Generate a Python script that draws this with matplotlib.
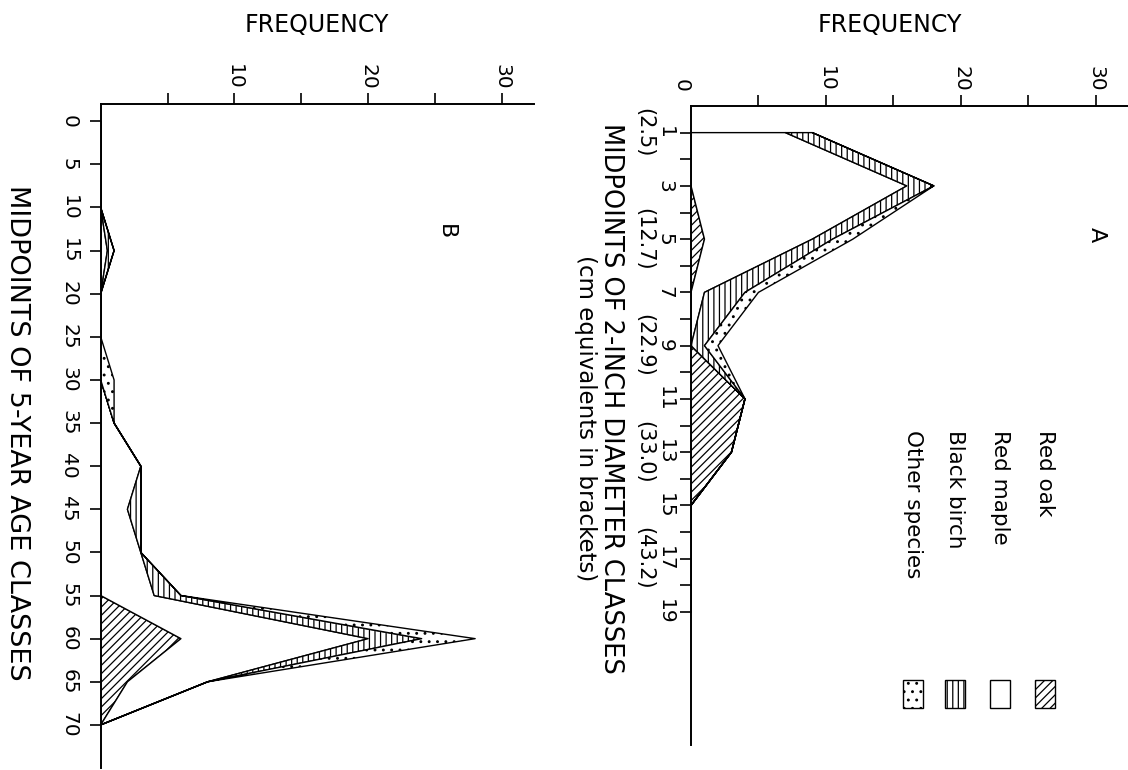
import numpy as np
import matplotlib
matplotlib.use("Agg")
from matplotlib import pyplot as plt
from matplotlib import transforms
from matplotlib.patches import Rectangle

# panel A: 2-inch diameter classes (midpoints)
diam_mid = [1, 3, 5, 7, 9, 11, 13, 15, 17, 19]
diam_cm = ["(2.5)", "(12.7)", "(22.9)", "(33.0)", "(43.2)"]
diam_cm_at = [1, 5, 9, 13, 17]
A_red_oak = [0, 0, 1, 0, 0, 4, 3, 0, 0, 0]
A_red_maple = [7, 16, 8, 1, 0, 0, 0, 0, 0, 0]
A_black_birch = [2, 2, 1.5, 3, 1, 0, 0, 0, 0, 0]
A_other = [0, 0, 1.5, 1, 1, 0, 0, 0, 0, 0]

# panel B: 5-year age classes
age_mid = [0, 5, 10, 15, 20, 25, 30, 35, 40, 45, 50, 55, 60, 65, 70]
B_red_oak = [0, 0, 0, 0, 0, 0, 0, 0, 0, 0, 0, 0, 6, 2, 0]
B_red_maple = [0, 0, 0, 0.5, 0, 0, 0, 1, 3, 2, 3, 4, 14, 6, 0]
B_black_birch = [0, 0, 0, 0.5, 0, 0, 0, 0, 0, 1, 0, 2, 4, 0, 0]
B_other = [0, 0, 0, 0, 0, 0, 1, 0, 0, 0, 0, 0, 4, 0, 0]

species = ["Red oak", "Red maple", "Black birch", "Other species"]
hatches = ["////", "", "|||", ".."]

plt.rcParams["hatch.linewidth"] = 0.9
plt.rcParams["font.family"] = "DejaVu Sans"

W, H = 1128, 770
fig = plt.figure(figsize=(W / 100, H / 100), dpi=100)


def box(x0, y0, x1, y1):
    return [x0 / W, 1 - y1 / H, (x1 - x0) / W, (y1 - y0) / H]


def ftext(x, y, s, **kw):
    fig.text(x / W, 1 - y / H, s, **kw)


def stack(ax, y, layers):
    base = np.zeros(len(y))
    for vals, hatch in zip(layers, hatches):
        top = base + np.array(vals, dtype=float)
        ax.fill_betweenx(y, base, top, facecolor="white", edgecolor="black",
                         hatch=hatch, linewidth=1.0)
        base = top


def style(ax):
    ax.spines["right"].set_visible(False)
    ax.spines["bottom"].set_visible(False)
    ax.spines["top"].set_linewidth(1.4)
    ax.spines["left"].set_linewidth(1.4)
    ax.xaxis.tick_top()
    ax.set_xlim(0, 32.4)
    ax.set_xticks([10, 20, 30])
    ax.set_xticks([5, 15, 25], minor=True)
    ax.tick_params(axis="x", which="both", direction="out", length=8, width=1.2,
                   labelsize=14.5, pad=2, labelrotation=-90)
    ax.tick_params(axis="y", which="both", direction="out", length=8, width=1.2,
                   labelsize=14.5, labelrotation=-90)
    ax.set_facecolor("none")


# ---- panel B
axB = fig.add_axes(box(100.7, 104, 534, 768))
stack(axB, age_mid, [B_red_oak, B_red_maple, B_black_birch, B_other])
style(axB)
axB.set_ylim(75, -2)
axB.set_yticks(age_mid)
axB.tick_params(axis="y", pad=8)
for lab in axB.get_yticklabels():
    lab.set_va("center")

# ---- panel A
axA = fig.add_axes(box(691, 106, 1128, 745))
stack(axA, diam_mid, [A_red_oak, A_red_maple, A_black_birch, A_other])
style(axA)
axA.set_ylim(24, 0)
axA.set_yticks(diam_mid)
axA.set_yticks(range(2, 19, 2), minor=True)
axA.tick_params(axis="y", pad=4)
for lab in axA.get_yticklabels():
    lab.set_va("center")

tr = transforms.blended_transform_factory(fig.transFigure, axA.transData)
for m, s in zip(diam_cm_at, diam_cm):
    axA.text(644 / W, m, s, transform=tr, rotation=-90, ha="center",
             va="center", fontsize=15)

# labels
ftext(317, 25, "FREQUENCY", ha="center", va="center", fontsize=17)
ftext(890, 25, "FREQUENCY", ha="center", va="center", fontsize=17)
ftext(681, 85, "0", rotation=-90, ha="center", va="center", fontsize=14.5)
ftext(17, 433, "MIDPOINTS OF 5-YEAR AGE CLASSES", rotation=-90,
      ha="center", va="center", fontsize=19.5)
ftext(611, 398, "MIDPOINTS OF 2-INCH DIAMETER CLASSES", rotation=-90,
      ha="center", va="center", fontsize=18.5)
ftext(586, 418, "(cm equivalents in brackets)", rotation=-90,
      ha="center", va="center", fontsize=16.5)
ftext(1097, 235, "A", rotation=-90, ha="center", va="center", fontsize=16)
ftext(446, 232, "B", rotation=-90, ha="center", va="center", fontsize=16)

# legend
leg_x = [1045, 1000, 955, 913]
for xc, name, hatch in zip(leg_x, species, hatches):
    ftext(xc, 430, name, rotation=-90, ha="center", va="top", fontsize=15.5)
    fig.add_artist(Rectangle(((xc - 10) / W, 1 - 708 / H), 20 / W, 28 / H,
                             transform=fig.transFigure, facecolor="white",
                             edgecolor="black", hatch=hatch, linewidth=1.0))

fig.savefig("out.png", dpi=100)
